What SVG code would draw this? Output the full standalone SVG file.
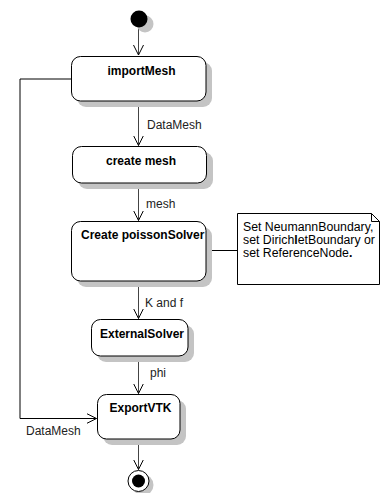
<svg xmlns="http://www.w3.org/2000/svg" width="381" height="493" viewBox="0 0 381 493">
<style>
.box{fill:#fff;stroke:#000;stroke-width:1}
.shadow{fill:#c4c4c4;stroke:none}
.title{font-family:"Liberation Sans",Arial,sans-serif;font-size:12px;font-weight:bold;fill:#000}
.lbl{font-family:"Liberation Sans",Arial,sans-serif;font-size:12px;fill:#222}
.note{font-family:"Liberation Sans",Arial,sans-serif;font-size:12.3px;fill:#000}
.edge{fill:none;stroke:#000;stroke-width:1}
.edge2{fill:none;stroke:#444;stroke-width:1}
</style>
<defs>
<marker id="arr" markerWidth="12" markerHeight="12" refX="10" refY="5" orient="auto" markerUnits="userSpaceOnUse" viewBox="0 0 12 10">
<path d="M0,0 L10,5 L0,10" fill="none" stroke="#000" stroke-width="1"/>
</marker>
</defs>
<rect width="381" height="493" fill="#fff"/>
<g id="connectors">
<line class="edge2" x1="138.5" y1="27" x2="138.5" y2="55" marker-end="url(#arr)"/>
<line class="edge2" x1="138.5" y1="101" x2="138.5" y2="145.5" marker-end="url(#arr)"/>
<line class="edge2" x1="138.5" y1="183" x2="138.5" y2="220.5" marker-end="url(#arr)"/>
<line class="edge2" x1="138.5" y1="281" x2="138.5" y2="318.5" marker-end="url(#arr)"/>
<line class="edge2" x1="138.5" y1="356" x2="138.5" y2="393.5" marker-end="url(#arr)"/>
<line class="edge2" x1="138.5" y1="439" x2="138.5" y2="469.5" marker-end="url(#arr)"/>
<polyline class="edge" points="71,79 20,79 20,418.5 96.5,418.5" marker-end="url(#arr)"/>
<line class="edge" x1="206" y1="250.5" x2="237.5" y2="250.5"/>
<text class="lbl" x="147" y="129">DataMesh</text>
<text class="lbl" x="146" y="208">mesh</text>
<text class="lbl" x="145" y="307">K and f</text>
<text class="lbl" x="150" y="377">phi</text>
<text class="lbl" x="26" y="435">DataMesh</text>
</g>
<g id="start">
<circle class="shadow" cx="145" cy="24" r="8.5"/>
<circle cx="139" cy="19" r="8.5" fill="#000"/>
</g>
<g id="importMesh">
<rect class="shadow" x="77" y="62" width="135" height="45" rx="9"/>
<rect class="box" x="71.5" y="56.5" width="134.5" height="44.5" rx="9"/>
<text class="title" x="107.5" y="74.5">importMesh</text>
</g>
<g id="createMesh">
<rect class="shadow" x="78" y="152" width="135" height="37" rx="9"/>
<rect class="box" x="72.5" y="146.5" width="134" height="36.5" rx="9"/>
<text class="title" x="106" y="165">create mesh</text>
</g>
<g id="createPoissonSolver">
<rect class="shadow" x="77" y="227" width="135" height="60" rx="9"/>
<rect class="box" x="71.5" y="221.5" width="134.5" height="59.5" rx="9"/>
<text class="title" x="81" y="239">Create poissonSolver</text>
</g>
<g id="note">
<path class="box" d="M237.5,213.5 L371.5,213.5 L379.5,221.5 L379.5,284.5 L237.5,284.5 Z"/>
<path class="edge" d="M371.5,213.5 L371.5,221.5 L379.5,221.5"/>
<text class="note" x="243" y="231">Set NeumannBoundary,</text>
<text class="note" x="243" y="244">set Dirich<tspan font-weight="bold">l</tspan>etBoundary or</text>
<text class="note" x="243" y="257">set ReferenceNode<tspan font-weight="bold">.</tspan></text>
</g>
<g id="externalSolver">
<rect class="shadow" x="97" y="325" width="97" height="37" rx="9"/>
<rect class="box" x="91.5" y="319.5" width="96.5" height="36.5" rx="9"/>
<text class="title" x="100" y="337.5">ExternalSolver</text>
</g>
<g id="exportVTK">
<rect class="shadow" x="103" y="400" width="83" height="45" rx="9"/>
<rect class="box" x="97.5" y="394.5" width="82.5" height="44.5" rx="9"/>
<text class="title" x="109.5" y="412">ExportVTK</text>
</g>
<g id="end">
<circle class="shadow" cx="143" cy="485" r="10.5"/>
<circle cx="138.5" cy="481" r="10.5" fill="#fff" stroke="#000" stroke-width="1"/>
<circle cx="138.5" cy="481" r="6.5" fill="#000"/>
</g>
</svg>
